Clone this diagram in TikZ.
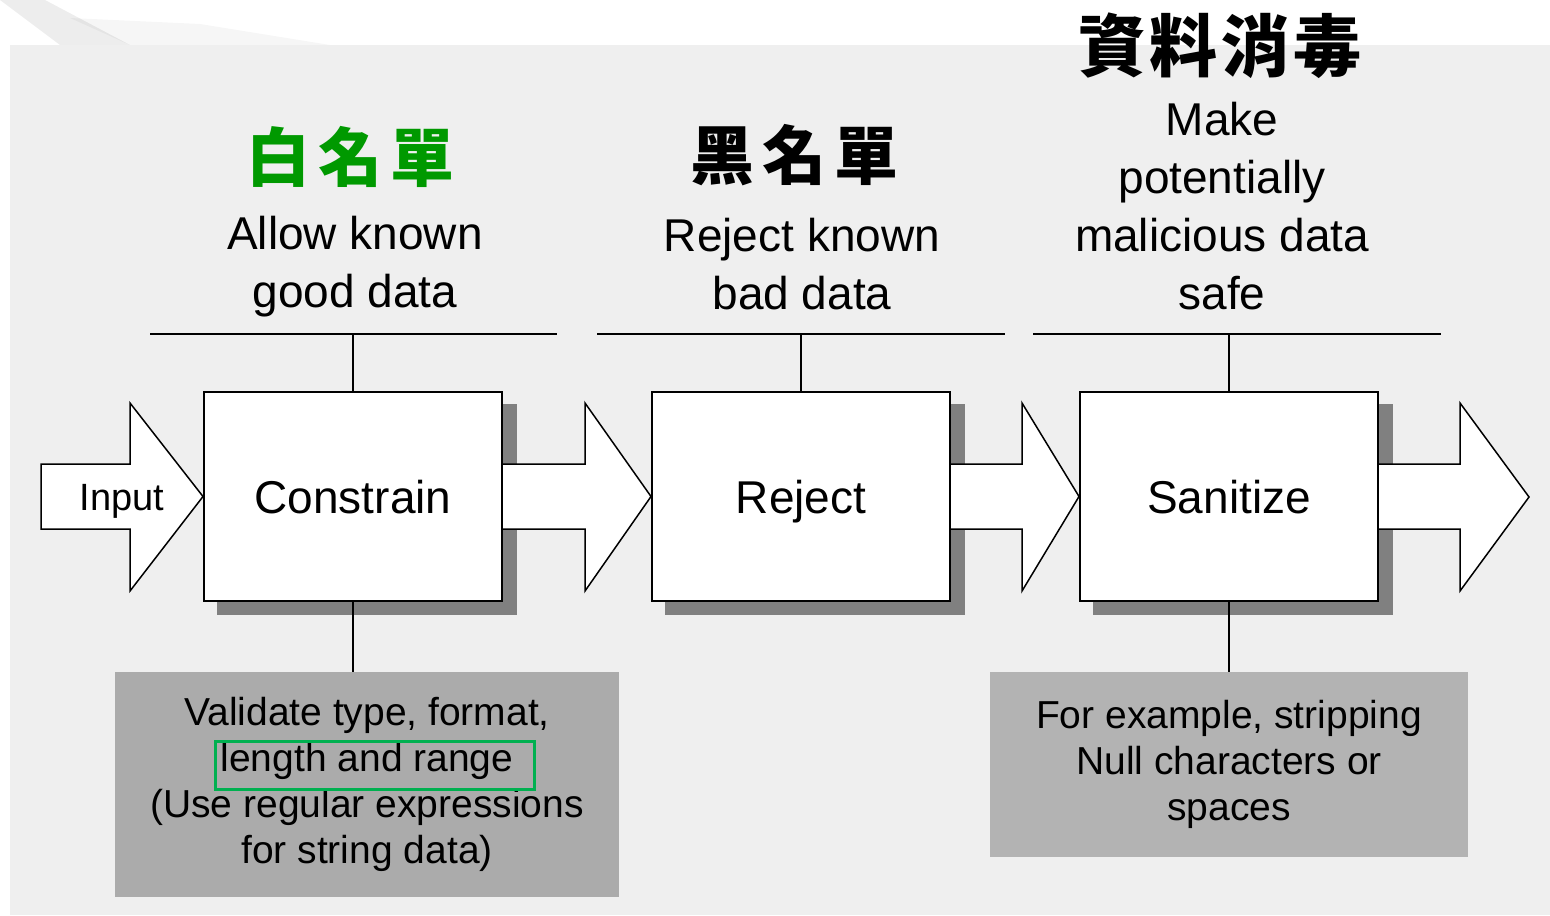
\documentclass[tikz,border=0pt]{standalone}
\usepackage{fontspec}
\setmainfont{Liberation Sans}
\newfontfamily\cjk{Noto Sans CJK TC}
\definecolor{bgc}{HTML}{EFEFEF}
\definecolor{shadowc}{HTML}{808080}
\definecolor{leftc}{HTML}{ABABAB}
\definecolor{rightc}{HTML}{B3B3B3}
\definecolor{greent}{HTML}{009900}
\definecolor{greenr}{HTML}{00B050}
\pgfdeclarelayer{back}
\pgfdeclarelayer{shadowl}
\pgfdeclarelayer{arrowl}
\pgfsetlayers{back,shadowl,arrowl,main}
\begin{document}
\begin{tikzpicture}[x=0.5pt,y=-0.5pt,
  stage/.style={draw, fill=white, line width=1pt, minimum width=149pt, minimum height=104.5pt,
    inner sep=0pt, font=\fontsize{23pt}{28pt}\selectfont, text height=16.5pt, text depth=0pt},
  flow/.style={draw, fill=white, line width=0.75pt, line join=miter},
  conn/.style={line width=0.75pt},
  head/.style={align=center, inner sep=0pt, font=\fontsize{23pt}{29pt}\selectfont},
  note/.style={align=center, inner sep=0pt, font=\fontsize{19.5pt}{22.9pt}\selectfont},
  cjkhead/.style={inner sep=0pt, font=\cjk\bfseries\fontsize{32pt}{32pt}\selectfont}
]
\useasboundingbox (0,0) rectangle (1550,915);

% background
\begin{pgfonlayer}{back}
\fill[white] (0,0) rectangle (1550,915);
\fill[black, opacity=0.07] (0,0) -- (45,0) -- (130,45) -- (60,45) -- cycle;
\fill[black, opacity=0.035] (70,18) -- (200,24) -- (330,45) -- (130,45) -- cycle;
\fill[bgc] (10,45) rectangle (1550,915);
\end{pgfonlayer}

% stage boxes
\node[stage] (c1) at (353,496.5) {Constrain};
\node[stage] (c2) at (801,496.5) {Reject};
\node[stage] (c3) at (1229,496.5) {Sanitize};

% shadows
\begin{pgfonlayer}{shadowl}
\foreach \n in {c1,c2,c3}
  \fill[shadowc] ([shift={(14,13)}]\n.south west) rectangle ([shift={(14,13)}]\n.north east);
\end{pgfonlayer}

% flow arrows
\coordinate (out) at (1529,497);
\begin{pgfonlayer}{arrowl}
\filldraw[flow] (41,464) -- (130,464) -- (130,403) -- (c1.west) -- (130,591) -- (130,529) -- (41,529) -- cycle;
\path[flow] (c1.east |- 0,464) -- (585,464) -- (585,403) -- (c2.west) -- (585,591) -- (585,529) -- (c1.east |- 0,529);
\path[flow] (c2.east |- 0,464) -- (1022,464) -- (1022,403) -- (c3.west) -- (1022,591) -- (1022,529) -- (c2.east |- 0,529);
\path[flow] (c3.east |- 0,464) -- (1460,464) -- (1460,403) -- (out) -- (1460,591) -- (1460,529) -- (c3.east |- 0,529);
\end{pgfonlayer}
\node[inner sep=0pt, font=\fontsize{19pt}{19pt}\selectfont, text height=13.6pt, text depth=0pt] (in) at (122,497) {Input};

% top bars and connectors
\coordinate (l1a) at (150,334); \coordinate (l1b) at (557,334);
\coordinate (l2a) at (597,334); \coordinate (l2b) at (1005,334);
\coordinate (l3a) at (1033,334); \coordinate (l3b) at (1441,334);
\draw[conn] (l1a) -- (l1b);
\draw[conn] (l2a) -- (l2b);
\draw[conn] (l3a) -- (l3b);
\draw[conn] (c1.north) -- (c1.north |- l1a);
\draw[conn] (c2.north) -- (c2.north |- l2a);
\draw[conn] (c3.north) -- (c3.north |- l3a);

% headings
\node[head] (h1) at (355,267) {Allow known\\good data};
\node[head] (h2) at (802,264) {Reject known\\bad data};
\node[head] (h3) at (1222,206) {Make\\potentially\\malicious data\\safe};
\node[cjkhead, text=greent] (w1) at (350,157) {白\hspace{4pt}名\hspace{4pt}單};
\node[cjkhead] (w2) at (794,155) {黑\hspace{4pt}名\hspace{4pt}單};
\node[cjkhead, font=\cjk\bfseries\fontsize{34pt}{34pt}\selectfont] (w3) at (1220,46) {資\hspace{2pt}料\hspace{2pt}消\hspace{2pt}毒};

% notes
\node[note, fill=leftc, minimum width=252pt, minimum height=112.5pt] (n1) at (367,784.5)
  {Validate type, format,\\length and range\\(Use regular expressions\\for string data)};
\node[note, fill=rightc, minimum width=239pt, minimum height=92.5pt] (n2) at (1229,764.5)
  {For example, stripping\\Null characters or\\spaces};
\node[draw=greenr, line width=1.5pt, minimum width=159.5pt, minimum height=24pt, inner sep=0pt] (g) at (374.5,765) {};
\draw[conn] (c1.south) -- (c1.south |- n1.north);
\draw[conn] (c3.south) -- (c3.south |- n2.north);
\end{tikzpicture}
\end{document}
